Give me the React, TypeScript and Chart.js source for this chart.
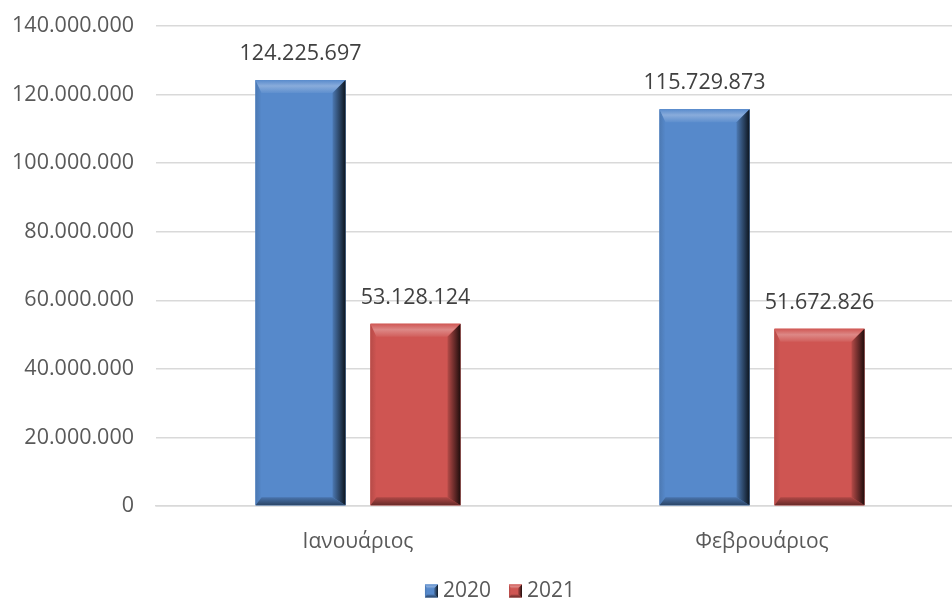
import React, { useEffect, useRef } from "react";
import { Chart, registerables } from "chart.js";

Chart.register(...registerables);

const categories = ["Ιανουάριος", "Φεβρουάριος"];
const seriesLabels = ["2020", "2021"];
const values2020 = [124225697, 115729873];
const values2021 = [53128124, 51672826];
const yTicks = [0, 20000000, 40000000, 60000000, 80000000, 100000000, 120000000, 140000000];

const FONT = "'Open Sans', 'Liberation Sans', sans-serif";
const BLUE = "#5689CB";
const RED = "#CF5552";
const TEXT = "#595959";

const fmt = (v: number) => String(Math.round(v)).replace(/\B(?=(\d{3})+(?!\d))/g, ".");

function hexToRgb(h: string) {
  const n = parseInt(h.slice(1), 16);
  return [(n >> 16) & 255, (n >> 8) & 255, n & 255];
}
function shade(h: string, f: number) {
  const [r, g, b] = hexToRgb(h);
  const m = (c: number) => (f >= 0 ? Math.round(c + (255 - c) * f) : Math.round(c * (1 + f)));
  return `rgb(${m(r)},${m(g)},${m(b)})`;
}

function drawBevel(
  ctx: CanvasRenderingContext2D, l: number, t: number, r: number, b: number, color: string,
  st: number, sr: number, sb: number, sl: number
) {
  const il = l + sl, it = t + st, ir = r - sr, ib = b - sb;
  ctx.save();
  ctx.fillStyle = color;
  ctx.fillRect(l, t, r - l, b - t);
  // left
  let g = ctx.createLinearGradient(l, 0, il, 0);
  g.addColorStop(0, shade(color, -0.12));
  g.addColorStop(1, color);
  ctx.fillStyle = g;
  ctx.beginPath();
  ctx.moveTo(l, t); ctx.lineTo(il, it); ctx.lineTo(il, ib); ctx.lineTo(l, b); ctx.closePath();
  ctx.fill();
  // top
  g = ctx.createLinearGradient(0, t, 0, it);
  g.addColorStop(0, shade(color, 0.02));
  g.addColorStop(0.45, shade(color, 0.3));
  g.addColorStop(1, shade(color, 0.05));
  ctx.fillStyle = g;
  ctx.beginPath();
  ctx.moveTo(l, t); ctx.lineTo(r, t); ctx.lineTo(ir, it); ctx.lineTo(il, it); ctx.closePath();
  ctx.fill();
  // bottom
  g = ctx.createLinearGradient(0, ib, 0, b);
  g.addColorStop(0, shade(color, -0.15));
  g.addColorStop(1, shade(color, -0.5));
  ctx.fillStyle = g;
  ctx.beginPath();
  ctx.moveTo(l, b); ctx.lineTo(r, b); ctx.lineTo(ir, ib); ctx.lineTo(il, ib); ctx.closePath();
  ctx.fill();
  // right
  g = ctx.createLinearGradient(ir, 0, r, 0);
  g.addColorStop(0, shade(color, -0.12));
  g.addColorStop(0.6, shade(color, -0.55));
  g.addColorStop(1, shade(color, -0.85));
  ctx.fillStyle = g;
  ctx.beginPath();
  ctx.moveTo(r, t); ctx.lineTo(r, b); ctx.lineTo(ir, ib); ctx.lineTo(ir, it); ctx.closePath();
  ctx.fill();
  ctx.restore();
}

const bevelPlugin = {
  id: "bevel",
  afterDatasetsDraw(chart: any) {
    const ctx = chart.ctx;
    chart.data.datasets.forEach((ds: any, i: number) => {
      const meta = chart.getDatasetMeta(i);
      meta.data.forEach((el: any, j: number) => {
        const { x, y, base, width } = el.getProps(["x", "y", "base", "width"], true);
        drawBevel(ctx, x - width / 2, y, x + width / 2, base, ds.backgroundColor, 13, 13, 8, 6);
        ctx.save();
        ctx.fillStyle = "#404040";
        ctx.font = `21.5px ${FONT}`;
        ctx.textAlign = "center";
        ctx.textBaseline = "middle";
        ctx.fillText(fmt(ds.data[j]), x, y - 26);
        ctx.restore();
      });
    });
  },
};

const legendPlugin = {
  id: "customLegend",
  afterDraw(chart: any) {
    const ctx = chart.ctx;
    const box = 13, gapIcon = 5, gapItem = 18;
    ctx.save();
    ctx.font = `21px ${FONT}`;
    const items = chart.data.datasets.map((d: any) => ({ text: d.label, color: d.backgroundColor, w: ctx.measureText(d.label).width }));
    const total = items.reduce((s: number, it: any) => s + box + gapIcon + it.w, 0) + gapItem * (items.length - 1);
    let x = chart.width / 2 - total / 2;
    const cy = chart.height - 11;
    items.forEach((it: any) => {
      drawBevel(ctx, x, cy - box / 2, x + box, cy + box / 2, it.color, 4, 4, 3, 2);
      x += box + gapIcon;
      ctx.fillStyle = TEXT;
      ctx.textAlign = "left";
      ctx.textBaseline = "middle";
      ctx.fillText(it.text, x, cy);
      x += it.w + gapItem;
    });
    ctx.restore();
  },
};

export default function App() {
  const ref = useRef<HTMLCanvasElement>(null);
  useEffect(() => {
    const chart = new Chart(ref.current!, {
      type: "bar",
      data: {
        labels: categories,
        datasets: [
          { label: seriesLabels[0], data: values2020, backgroundColor: BLUE },
          { label: seriesLabels[1], data: values2021, backgroundColor: RED },
        ],
      },
      options: {
        animation: false,
        responsive: false,
        devicePixelRatio: 1,
        layout: { padding: { top: 26, right: 36, bottom: 36, left: 0 } },
        datasets: { bar: { categoryPercentage: 0.569, barPercentage: 0.783 } },
        scales: {
          x: {
            grid: { display: false, drawTicks: false },
            border: { display: true, color: "#D9D9D9", width: 1.5 },
            ticks: { color: TEXT, font: { family: FONT, size: 21 }, padding: 23 },
            afterFit: (s: any) => { s.height = 60; s.paddingLeft = 0; s.paddingRight = 0; },
          },
          y: {
            min: 0,
            max: 140000000,
            afterBuildTicks: (s: any) => { s.ticks = yTicks.map((v) => ({ value: v })); },
            grid: { color: "#D9D9D9", lineWidth: 1.5, drawTicks: false },
            border: { display: false },
            ticks: { color: TEXT, font: { family: FONT, size: 21.5 }, padding: 22, callback: (v: any) => fmt(Number(v)) },
            afterFit: (s: any) => { s.width = 156; s.paddingTop = 0; s.paddingBottom = 0; },
          },
        },
        plugins: {
          tooltip: { enabled: false },
          legend: { display: false },
        },
      },
      plugins: [bevelPlugin, legendPlugin],
    });
    return () => chart.destroy();
  }, []);
  return (
    <div style={{ position: "fixed", left: 0, top: 0, width: 952, height: 602, overflow: "hidden", background: "#fff" }}>
      <canvas ref={ref} width={1000} height={602} style={{ display: "block" }} />
    </div>
  );
}
